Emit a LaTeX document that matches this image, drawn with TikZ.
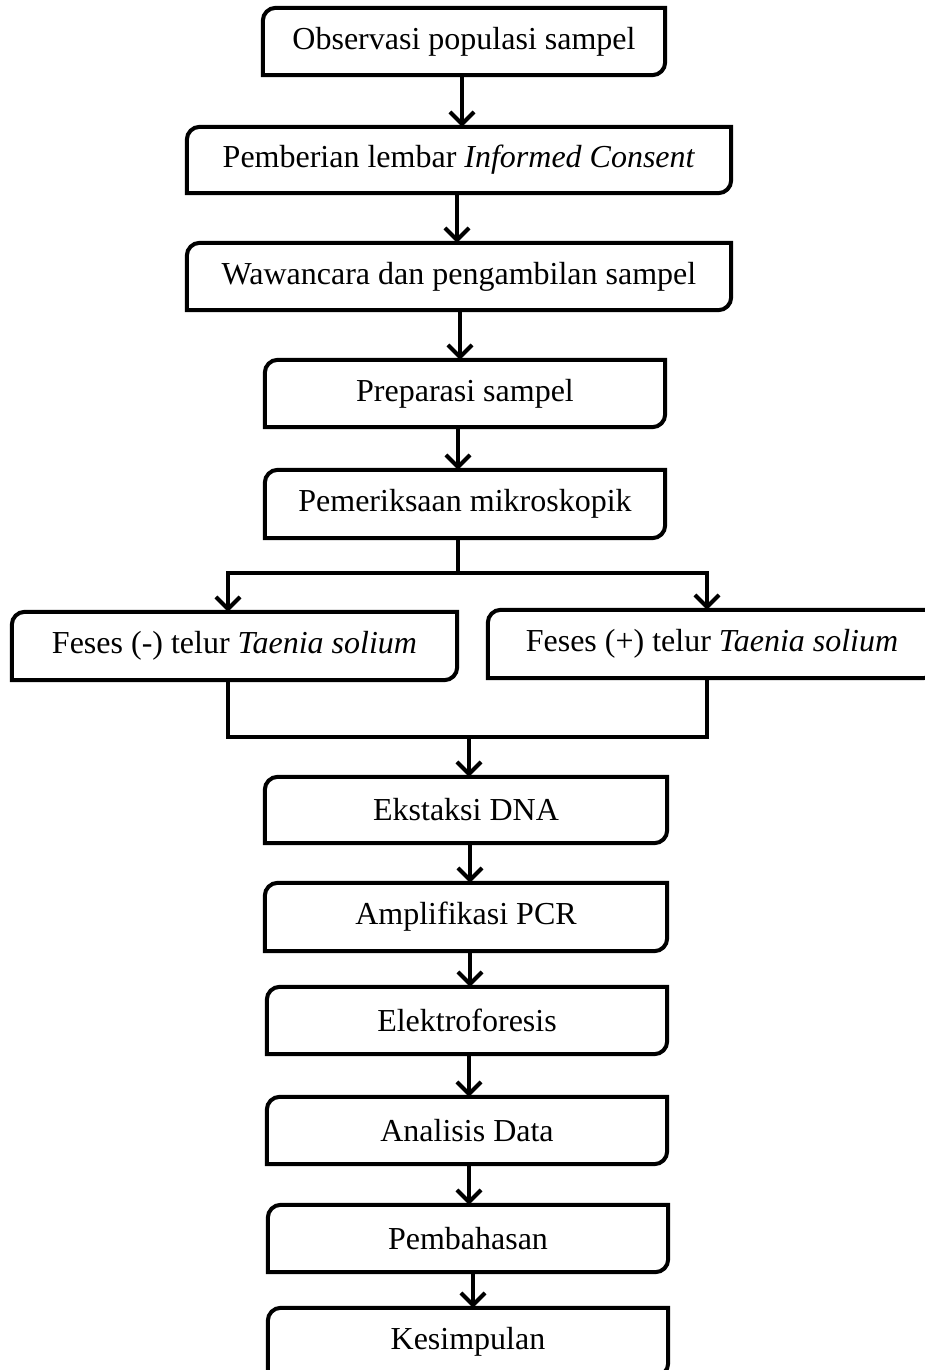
\documentclass[tikz,border=0pt]{standalone}
\usepackage{fontspec}
\setmainfont{Liberation Serif}
\usetikzlibrary{arrows.meta}
\newcommand{\dboxline}[1]{%
  \draw[bline] (#1.south west) -- ([yshift=-13pt]#1.north west)
    .. controls ([yshift=-5.8pt]#1.north west) and ([xshift=5.8pt]#1.north west) .. ([xshift=13pt]#1.north west)
    -- (#1.north east) -- ([yshift=13pt]#1.south east)
    .. controls ([yshift=5.8pt]#1.south east) and ([xshift=-5.8pt]#1.south east) .. ([xshift=-13pt]#1.south east)
    -- cycle;}
\tikzset{
  bline/.style={line width=4pt, line join=miter, black},
  lbox/.style={inner sep=0pt, font=\fontsize{32}{38}\selectfont},
  conn/.style={line width=4pt, line join=miter, black},
  arr/.style={conn, -{Straight Barb[length=12pt,width=24pt]}},
}
\begin{document}
\begin{tikzpicture}[x=1pt,y=-1pt]
\useasboundingbox (0,0) rectangle (925,1370);
\clip (0,0) rectangle (925,1370);
\fill[white] (0,0) rectangle (925,1370);
% boxes
\node[lbox, minimum width=402pt, minimum height=67pt] (b1) at (464,41.5) {Observasi populasi sampel};
\node[lbox, minimum width=544pt, minimum height=66pt] (b2) at (459,160) {Pemberian lembar \textit{Informed Consent}};
\node[lbox, minimum width=544pt, minimum height=67pt] (b3) at (459,276.5) {Wawancara dan pengambilan sampel};
\node[lbox, minimum width=400pt, minimum height=67pt] (b4) at (465,393.5) {Preparasi sampel};
\node[lbox, minimum width=400pt, minimum height=68pt] (b5) at (465,504) {Pemeriksaan mikroskopik};
\node[lbox, minimum width=445pt, minimum height=68pt] (fm) at (234.5,646) {Feses (-) telur \textit{Taenia solium}};
\node[lbox, minimum width=448pt, minimum height=68pt] (fp) at (712,644) {Feses (+) telur \textit{Taenia solium}};
\node[lbox, minimum width=402pt, minimum height=66pt] (b6) at (466,810) {Ekstaksi DNA};
\node[lbox, minimum width=402pt, minimum height=68pt] (b7) at (466,917) {Amplifikasi PCR};
\node[lbox, minimum width=400pt, minimum height=67pt] (b8) at (467,1020.5) {Elektroforesis};
\node[lbox, minimum width=400pt, minimum height=67pt] (b9) at (467,1130.5) {Analisis Data};
\node[lbox, minimum width=400pt, minimum height=67pt] (b10) at (468,1238.5) {Pembahasan};
\node[lbox, minimum width=400pt, minimum height=68pt] (b11) at (468,1342) {Kesimpulan};
\foreach \n in {b1,b2,b3,b4,b5,fm,fp,b6,b7,b8,b9,b10,b11}{\dboxline{\n}}
% connectors
\coordinate (a1) at (462,0);
\draw[arr] (b1.south -| a1) -- (a1 |- b2.north);
\coordinate (a2) at (457,0);
\draw[arr] (b2.south -| a2) -- (a2 |- b3.north);
\coordinate (a3) at (460,0);
\draw[arr] (b3.south -| a3) -- (a3 |- b4.north);
\coordinate (a4) at (458,0);
\draw[arr] (b4.south -| a4) -- (a4 |- b5.north);
\coordinate (j1) at (458,573);
\coordinate (jl) at (228,573);
\coordinate (jr) at (707,573);
\draw[conn] (b5.south -| j1) -- (j1);
\draw[arr] (j1) -- (jl) -- (jl |- fm.north);
\draw[arr] (j1) -- (jr) -- (jr |- fp.north);
\coordinate (kl) at (228,737);
\coordinate (kr) at (707,737);
\coordinate (k) at (469,737);
\draw[conn] (fm.south -| kl) -- (kl) -- (kr) -- (fp.south -| kr);
\draw[arr] (k) -- (k |- b6.north);
\coordinate (a6) at (470,0);
\draw[arr] (b6.south -| a6) -- (a6 |- b7.north);
\coordinate (a7) at (470,0);
\draw[arr] (b7.south -| a7) -- (a7 |- b8.north);
\coordinate (a8) at (469,0);
\draw[arr] (b8.south -| a8) -- (a8 |- b9.north);
\coordinate (a9) at (469,0);
\draw[arr] (b9.south -| a9) -- (a9 |- b10.north);
\coordinate (a10) at (473,0);
\draw[arr] (b10.south -| a10) -- (a10 |- b11.north);
\end{tikzpicture}
\end{document}
